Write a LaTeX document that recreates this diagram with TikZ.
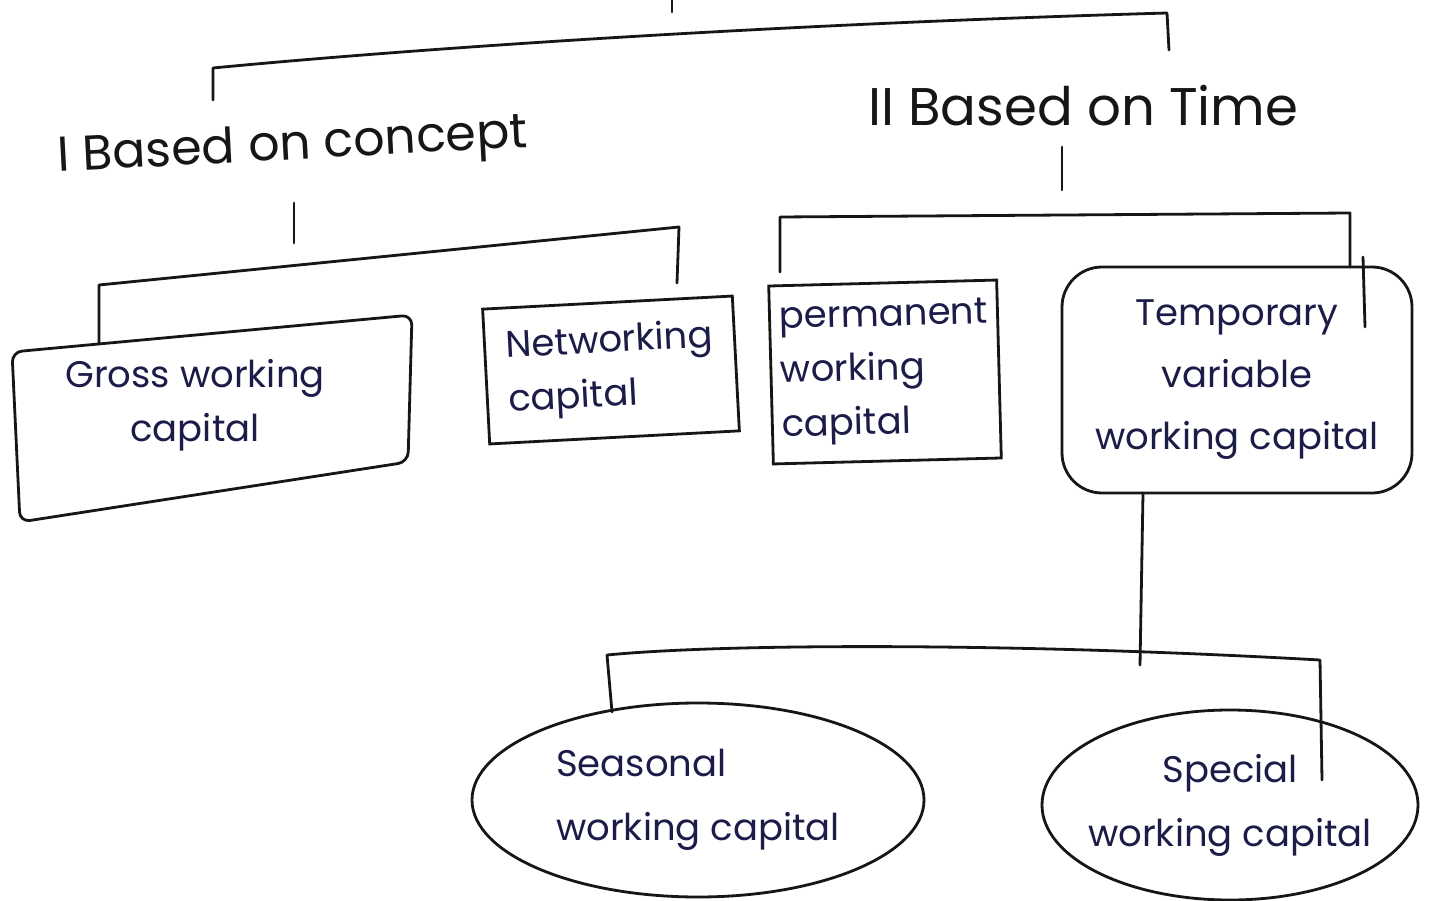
\documentclass[tikz,border=0pt]{standalone}
\usepackage{fontspec}
\setmainfont{Poppins}
\usetikzlibrary{shapes.geometric}
\definecolor{ink}{RGB}{28,28,72}
\definecolor{pen}{RGB}{22,22,22}
\begin{document}
\begin{tikzpicture}[x=1pt,y=-1pt,
  line/.style={draw=pen,line width=2.8pt,line cap=round,line join=round},
  hw/.style={text=ink,font=\fontsize{37}{54}\selectfont,inner sep=0pt},
  head/.style={text=pen,inner sep=0pt},
  boxnode/.style={hw,draw=pen,line width=2.8pt},
  ellnode/.style={draw=pen,line width=2.8pt,ellipse,inner sep=0pt},
  elltext/.style={hw,font=\fontsize{37}{64}\selectfont}]
\fill[white] (0,0) rectangle (1432,901);
\useasboundingbox (0,0) rectangle (1432,901);

% headings
\node[head,rotate=3,anchor=west,font=\fontsize{49}{56}\selectfont] (concept) at (58,160) {I Based on concept};
\node[head,anchor=west,font=\fontsize{53}{60}\selectfont] (time) at (868,106) {II Based on Time};

% Gross working capital (hand-drawn skewed box)
\draw[line,rounded corners=10pt] (12,352) -- (412,315) -- (408,462) -- (20,522) -- cycle;
\node[hw,align=center] (gross) at (195,405) {Gross working\\capital};
\coordinate (grossTop) at (99,344);

% Networking capital
\node[boxnode,rotate=3,minimum width=250pt,minimum height=135pt,align=left] (net) at (611,370) {Networking\\capital};

% Permanent working capital
\node[boxnode,rotate=1.5,minimum width=228pt,minimum height=178pt,align=left] (perm) at (885,372) {permanent\\working\\capital};

% Temporary variable working capital
\node[boxnode,rounded corners=40pt,minimum width=350pt,minimum height=226pt,align=center,font=\fontsize{37}{62}\selectfont] (temp) at (1237,380) {Temporary\\variable\\working capital};

% ellipses
\node[ellnode,minimum width=452pt,minimum height=194pt] (seas) at (698,800) {};
\node[elltext,align=left] (seastext) at (seas.center) {Seasonal\\working capital};
\node[ellnode,minimum width=376pt,minimum height=190pt] (spec) at (1230,805) {};
\node[elltext,align=center] (spectext) at (spec.center) {Special\\working capital};

% connector coordinates
\coordinate (stubA) at (672,0);
\coordinate (stubB) at (672,12);
\coordinate (tL) at (213,68);
\coordinate (tLd) at (213,100);
\coordinate (tR) at (1167,13);
\coordinate (tRd) at (1169,50);
\coordinate (cv1) at (294,203);
\coordinate (cv2) at (294,243);
\coordinate (lbL) at (99,285);
\coordinate (lbR) at (679,227);
\coordinate (lbRd) at (677,283);
\coordinate (tv1) at (1062,147);
\coordinate (tv2) at (1062,190);
\coordinate (rbL) at (780,217);
\coordinate (rbLd) at (780,272);
\coordinate (rbR) at (1350,213);
\coordinate (rbRd) at (1350,267);
\coordinate (tmpx1) at (1363,257);
\coordinate (tmpx2) at (1365,327);
\coordinate (tempDown) at (1143,493);
\coordinate (sbMid) at (1140,665);
\coordinate (sbL) at (607,655);
\coordinate (sbLd) at (612,712);
\coordinate (sbR) at (1320,660);
\coordinate (sbRd) at (1322,780);

% connectors
\draw[line] (stubA) -- (stubB);
\draw[line] (tLd) -- (tL) .. controls (400,50) and (750,25) .. (tR) -- (tRd);
\draw[line] (cv1) -- (cv2);
\draw[line] (grossTop) -- (lbL) -- (lbR) -- (lbRd);
\draw[line] (tv1) -- (tv2);
\draw[line] (rbLd) -- (rbL) -- (rbR) -- (rbRd);
\draw[line] (tmpx1) -- (tmpx2);
\draw[line] (tempDown) -- (sbMid);
\draw[line] (sbLd) -- (sbL) .. controls (720,644) and (1000,642) .. (sbR) -- (sbRd);
\end{tikzpicture}
\end{document}
